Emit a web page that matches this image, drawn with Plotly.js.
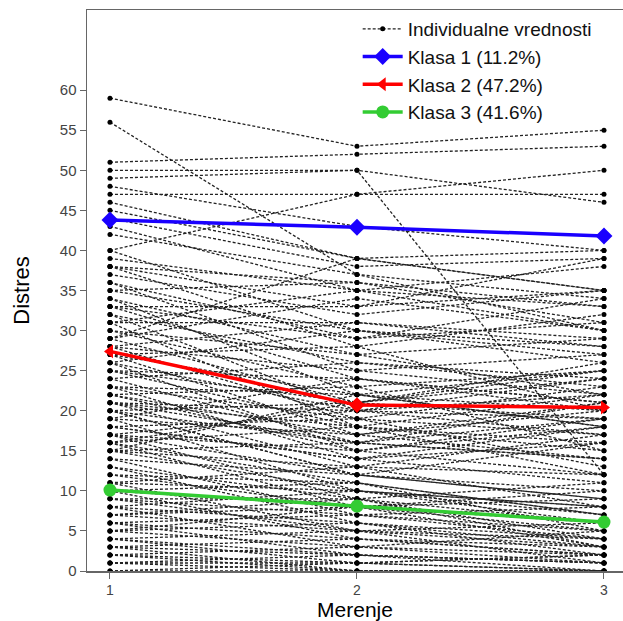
<!DOCTYPE html>
<html><head><meta charset="utf-8">
<script src="https://cdn.plot.ly/plotly-3.0.1.min.js"></script>
<style>html,body{margin:0;padding:0;background:#fff}</style>
</head><body>
<div id="chart" style="width:623px;height:621px"></div>
<script>
// Measurement occasions
const merenja = [1, 2, 3];
const tickLabelsY = [0, 5, 10, 15, 20, 25, 30, 35, 40, 45, 50, 55, 60];

// Individual values (one entry per participant) at measurements 1, 2, 3
const ind1 = [59,56,51,50,49,47,45,40,44,43,42,46,48,38,
  40,39,38,37,36,36,35,34,34,33, 33,32,32,31,31,30,30,29,29,28, 28,27,27,27,26,26,25,25,25,24,
  24,23,23,23,22,22,21,21,21,20, 20,20,19,19,18,18,17,17,16,16, 15,15,29,38,35,33,31,28,26,
  20,19,18,17,17,16,16,15,15,14, 14,13,13,12,12,11,11,11,10,10, 10,9,9,9,8,8,8,7,7,7,
  6,6,6,5,5,5,4,4,4,3, 3,3,2,2,2,1,1,1,0,0, 22,21];
const ind2 = [53,37,52,50,50,47,39,47,38,35,37,39,43,33,
  30,35,28,32,25,29,30,22,27,33, 24,20,26,31,18,23,27,21,34,19, 25,17,22,28,20,15,24,18,21,16,
  26,19,14,22,17,23,18,13,20,16, 21,12,17,24,14,19,20,15,21,18, 22,16,39,36,36,29,35,31,30,
  12,10,14,9,12,11,8,13,10,7, 12,9,6,11,8,10,5,13,8,4, 11,7,9,5,10,6,3,8,5,9,
  4,7,2,6,3,8,2,5,1,4, 2,0,3,1,0,2,0,1,0,1, 15,16];
const ind3 = [55,30,53,46,12,47,40,50,39,38,34,35,40,39,
  28,33,20,35,22,31,26,18,29,35, 21,17,24,28,15,25,22,19,30,23, 27,14,20,32,24,18,21,12,26,19,
  23,17,16,25,20,15,22,17,19,14, 24,16,21,20,18,13,22,19,25,16, 18,21,35,31,33,34,30,29,27,
  9,8,11,6,10,7,5,12,8,4, 9,11,3,7,10,6,4,8,9,2, 5,8,3,6,7,2,5,6,1,4,
  3,5,0,4,2,3,1,3,0,2, 1,0,1,2,0,1,0,2,0,0, 12,14];

// Class mean trajectories
const klasa1 = [43.8, 42.9, 41.8];
const klasa2 = [27.4, 20.7, 20.4];
const klasa3 = [10.1, 8.1, 6.1];
const imena = ['Individualne vrednosti', 'Klasa 1 (11.2%)', 'Klasa 2 (47.2%)', 'Klasa 3 (41.6%)'];

// Build the individual segments (null-separated)
const ix = [], iy = [];
for (let i = 0; i < ind1.length; i++) {
  const vals = [ind1[i], ind2[i], ind3[i]];
  for (let k = 0; k < merenja.length; k++) { ix.push(merenja[k]); iy.push(vals[k]); }
  ix.push(null); iy.push(null);
}

const traces = [
  {x: ix, y: iy, type: 'scatter', mode: 'lines+markers', name: imena[0], connectgaps: false,
   line: {color: '#222', width: 1.3, dash: '3px,2px'}, marker: {color: '#000', size: 5}},
  {x: merenja, y: klasa1, type: 'scatter', mode: 'lines+markers', name: imena[1],
   line: {color: '#1a00ff', width: 3.5}, marker: {color: '#1a00ff', size: 13, symbol: 'diamond'}},
  {x: merenja, y: klasa2, type: 'scatter', mode: 'lines+markers', name: imena[2],
   line: {color: '#ff0000', width: 3.5}, marker: {color: '#ff0000', size: 12, symbol: ['triangle-left', 'diamond', 'triangle-right']}},
  {x: merenja, y: klasa3, type: 'scatter', mode: 'lines+markers', name: imena[3],
   line: {color: '#33cc33', width: 3.5}, marker: {color: '#33cc33', size: 13, symbol: 'circle'}}
];

const layout = {
  width: 623, height: 621,
  margin: {l: 87, r: 0, t: 10, b: 50},
  paper_bgcolor: '#fff', plot_bgcolor: '#fff',
  font: {family: 'Liberation Sans, Arial, sans-serif', color: '#000'},
  showlegend: true,
  legend: {x: 0.505, y: 1.0, xanchor: 'left', yanchor: 'top', bgcolor: 'rgba(255,255,255,0)',
           font: {size: 19, color: '#111'}, tracegroupgap: 0, itemwidth: 40},
  xaxis: {range: [0.907, 3.077], tickvals: merenja, ticktext: merenja.map(String),
          showgrid: false, zeroline: false, showline: true, linecolor: '#666', linewidth: 1.5, mirror: true,
          ticks: 'outside', ticklen: 6, tickcolor: '#666', tickfont: {size: 14, color: '#444'},
          title: {text: 'Merenje', font: {size: 21, color: '#000'}, standoff: 4}},
  yaxis: {range: [0, 70], tickvals: tickLabelsY, ticktext: tickLabelsY.map(String),
          showgrid: false, zeroline: false, showline: true, linecolor: '#666', linewidth: 1.5,
          ticks: 'outside', ticklen: 6, tickcolor: '#666', tickfont: {size: 15, color: '#444'},
          title: {text: 'Distres', font: {size: 22, color: '#000'}, standoff: 24}}
};

Plotly.newPlot('chart', traces, layout, {displayModeBar: false, staticPlot: true});
</script>
</body></html>
